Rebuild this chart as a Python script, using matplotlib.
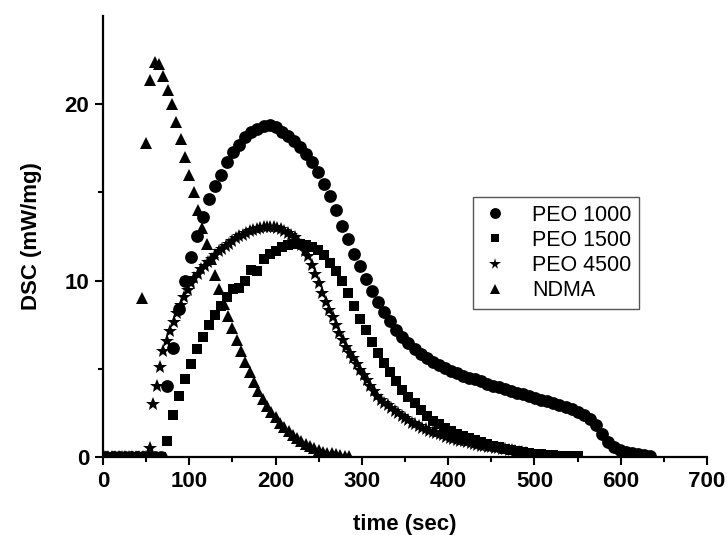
import matplotlib
matplotlib.use("Agg")
import matplotlib.pyplot as plt

plt.rcParams['font.family'] = ['Liberation Sans', 'DejaVu Sans']

# PEO 1000 (circles)
t_peo1000 = [4, 11, 18, 25, 32, 39, 46, 53, 60, 67,
             74, 81, 88, 95, 102, 109, 116, 123, 130, 137,
             144, 151, 158, 165, 172, 179, 186, 193, 200, 207,
             214, 221, 228, 235, 242, 249, 256, 263, 270, 277,
             284, 291, 298, 305, 312, 319, 326, 333, 340, 347,
             354, 361, 368, 375, 382, 389, 396, 403, 410, 417,
             424, 431, 438, 445, 452, 459, 466, 473, 480, 487,
             494, 501, 508, 515, 522, 529, 536, 543, 550, 557,
             564, 571, 578, 585, 592, 599, 606, 613, 620, 627, 634]
dsc_peo1000 = [0, 0, 0, 0, 0, 0, 0, 0, 0, 0,
               4.0, 6.2, 8.4, 10.0, 11.35, 12.5, 13.6, 14.6, 15.35, 16.0,
               16.7, 17.3, 17.7, 18.15, 18.4, 18.6, 18.75, 18.8, 18.7, 18.45,
               18.2, 17.9, 17.6, 17.2, 16.7, 16.15, 15.5, 14.8, 14.0, 13.1,
               12.35, 11.5, 10.8, 10.1, 9.4, 8.8, 8.2, 7.7, 7.2, 6.8,
               6.45, 6.15, 5.85, 5.6, 5.4, 5.2, 5.05, 4.9, 4.75, 4.6,
               4.5, 4.4, 4.3, 4.15, 4.05, 3.95, 3.85, 3.75, 3.65, 3.55,
               3.45, 3.35, 3.25, 3.15, 3.05, 2.95, 2.85, 2.7, 2.55, 2.4,
               2.15, 1.8, 1.3, 0.85, 0.55, 0.4, 0.3, 0.22, 0.15, 0.1, 0.05]

# PEO 1500 (squares)
t_peo1500 = [4, 11, 18, 25, 32, 39, 46, 53, 60, 67,
             74, 81, 88, 95, 102, 109, 116, 123, 130, 137,
             144, 151, 158, 165, 172, 179, 186, 193, 200, 207,
             214, 221, 228, 235, 242, 249, 256, 263, 270, 277,
             284, 291, 298, 305, 312, 319, 326, 333, 340, 347,
             354, 361, 368, 375, 382, 389, 396, 403, 410, 417,
             424, 431, 438, 445, 452, 459, 466, 473, 480, 487,
             494, 501, 508, 515, 522, 529, 536, 543, 550]
dsc_peo1500 = [0, 0, 0, 0, 0, 0, 0, 0, 0, 0,
               0.92, 2.4, 3.45, 4.4, 5.25, 6.1, 6.8, 7.5, 8.05, 8.55,
               9.05, 9.5, 9.6, 10.0, 10.6, 10.55, 11.2, 11.5, 11.7, 11.9,
               12.0, 12.1, 12.1, 12.0, 11.9, 11.75, 11.45, 11.0, 10.55, 10.0,
               9.3, 8.55, 7.85, 7.2, 6.5, 5.9, 5.35, 4.8, 4.3, 3.8,
               3.4, 3.05, 2.65, 2.3, 2.05, 1.85, 1.65, 1.48, 1.32, 1.18,
               1.06, 0.95, 0.85, 0.74, 0.64, 0.55, 0.47, 0.4, 0.34, 0.28,
               0.23, 0.19, 0.15, 0.12, 0.1, 0.08, 0.06, 0.05, 0.04]

# PEO 4500 (stars)
t_peo4500 = [2, 6, 10, 14, 18, 22, 26, 30, 34, 38, 42, 46, 50,
             54, 58, 62, 66, 70, 74, 78, 82, 86, 90,
             94, 98, 102, 106, 110, 114, 118, 122, 126, 130,
             134, 138, 142, 146, 150, 154, 158, 162, 166, 170,
             174, 178, 182, 186, 190, 194, 198, 202, 206, 210,
             214, 218, 222, 226, 230, 234, 238, 242, 246, 250,
             254, 258, 262, 266, 270, 274, 278, 282, 286, 290,
             294, 298, 302, 306, 310, 314, 318, 322, 326, 330,
             334, 338, 342, 346, 350, 354, 358, 362, 366, 370,
             374, 378, 382, 386, 390, 394, 398, 402, 406, 410,
             414, 418, 422, 426, 430, 434, 438, 442, 446, 450,
             454, 458, 462, 466, 470, 474, 478, 482, 486, 490]
dsc_peo4500 = [0, 0, 0, 0, 0, 0, 0, 0, 0, 0, 0, 0, 0,
               0.5, 3.0, 4.0, 5.1, 6.0, 6.6, 7.15, 7.65, 8.15, 8.6,
               9.05, 9.45, 9.85, 10.15, 10.4, 10.65, 10.85, 11.05, 11.25, 11.45,
               11.65, 11.8, 11.95, 12.1, 12.25, 12.4, 12.5, 12.6, 12.7, 12.8,
               12.85, 12.92, 12.98, 13.02, 13.05, 13.05, 13.03, 13.0, 12.92, 12.82,
               12.7, 12.58, 12.45, 12.25, 12.0, 11.7, 11.4, 10.9, 10.4, 9.85,
               9.3, 8.8, 8.35, 7.95, 7.5, 7.05, 6.65, 6.25, 5.9, 5.6,
               5.25, 4.95, 4.65, 4.35, 4.05, 3.75, 3.45, 3.25, 3.05, 2.92,
               2.78, 2.62, 2.48, 2.34, 2.2, 2.07, 1.95, 1.85, 1.75, 1.65,
               1.57, 1.5, 1.42, 1.35, 1.28, 1.22, 1.16, 1.1, 1.04, 0.98,
               0.93, 0.88, 0.83, 0.78, 0.73, 0.69, 0.65, 0.61, 0.58, 0.55,
               0.52, 0.49, 0.46, 0.43, 0.4, 0.37, 0.34, 0.31, 0.28, 0.25]

# NDMA (triangles)
t_ndma = [0, 5, 10, 15, 20, 25, 30, 35, 40,
          45, 50, 55, 60, 65, 70, 75, 80, 85, 90,
          95, 100, 105, 110, 115, 120, 125, 130, 135, 140,
          145, 150, 155, 160, 165, 170, 175, 180, 185, 190,
          195, 200, 205, 210, 215, 220, 225, 230, 235, 240,
          245, 250, 255, 260, 265, 270, 275, 280, 285]
dsc_ndma = [0, 0, 0, 0, 0, 0, 0, 0, 0,
            9.0, 17.8, 21.4, 22.4, 22.3, 21.6, 20.8, 20.0, 19.0, 18.0,
            17.0, 16.0, 15.0, 14.0, 13.0, 12.1, 11.2, 10.3, 9.5, 8.7,
            8.0, 7.3, 6.65, 6.0, 5.4, 4.8, 4.25, 3.75, 3.3, 2.9,
            2.55, 2.25, 1.95, 1.7, 1.45, 1.25, 1.05, 0.9, 0.75, 0.6,
            0.5, 0.4, 0.3, 0.25, 0.2, 0.15, 0.1, 0.08, 0.05]

fig = plt.figure(figsize=(7.27, 5.35), dpi=100)
ax = fig.add_axes([0.1417, 0.1458, 0.8308, 0.8243])

ax.plot(t_peo1000, dsc_peo1000, 'o', color='black', markersize=9.2, markeredgewidth=0, label='PEO 1000')
ax.plot(t_peo1500, dsc_peo1500, 's', color='black', markersize=7.4, markeredgewidth=0, label='PEO 1500')
ax.plot(t_peo4500, dsc_peo4500, '*', color='black', markersize=10, markeredgewidth=0, label='PEO 4500')
ax.plot(t_ndma, dsc_ndma, '^', color='black', markersize=9, markeredgewidth=0, label='NDMA')

ax.set_xlim(0, 700)
ax.set_ylim(0, 25)
ax.set_xticks([0, 100, 200, 300, 400, 500, 600, 700])
ax.set_xticks([50, 150, 250, 350, 450, 550, 650], minor=True)
ax.set_yticks([0, 10, 20])
ax.set_yticks([5, 15], minor=True)

for side in ['top', 'right']:
    ax.spines[side].set_visible(False)
for side in ['left', 'bottom']:
    ax.spines[side].set_linewidth(1.6)

ax.tick_params(which='major', direction='out', length=6, width=1.5, labelsize=16, pad=4)
ax.tick_params(which='minor', direction='out', length=3.5, width=1.5)
for lab in ax.get_xticklabels() + ax.get_yticklabels():
    lab.set_fontweight('bold')

ax.set_xlabel('time (sec)', fontsize=16, fontweight='bold', labelpad=16)
ax.set_ylabel('DSC (mW/mg)', fontsize=16, fontweight='bold', labelpad=16)

leg = ax.legend(loc='upper left', bbox_to_anchor=(0.6126, 0.5896), borderaxespad=0,
                fontsize=15.5, fancybox=False, edgecolor='#555555', framealpha=1,
                labelspacing=0.2, handletextpad=1.1, handlelength=1.3,
                borderpad=0.35, markerscale=0.85)
leg.get_frame().set_linewidth(1.0)

fig.savefig('out.png', dpi=100)
